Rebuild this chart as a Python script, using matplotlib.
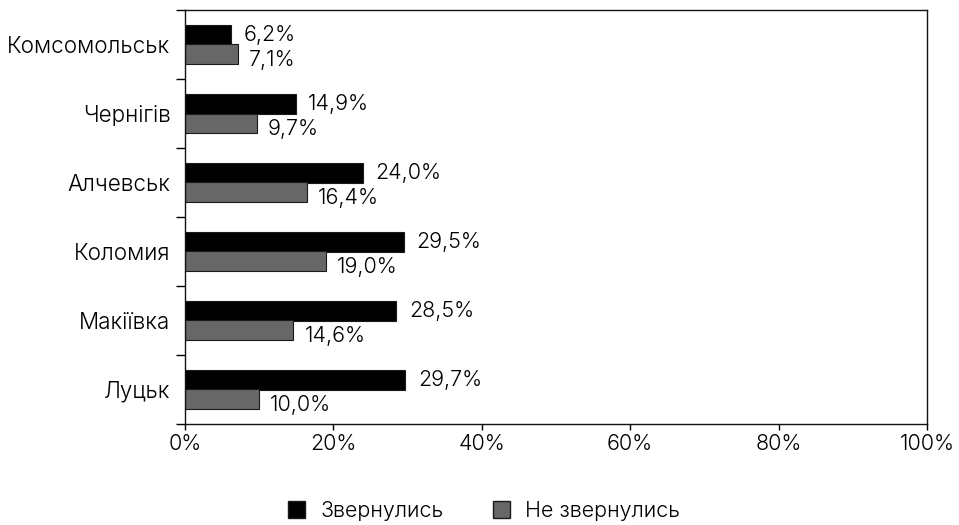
import matplotlib.pyplot as plt
import numpy as np
from matplotlib.patches import Patch
from matplotlib.ticker import FixedLocator, PercentFormatter

cities = ["Комсомольськ", "Чернігів", "Алчевськ", "Коломия", "Макіївка", "Луцьк"]
applied = [6.2, 14.9, 24.0, 29.5, 28.5, 29.7]
not_applied = [7.1, 9.7, 16.4, 19.0, 14.6, 10.0]
series_names = ["Звернулись", "Не звернулись"]
x_ticks = [0, 20, 40, 60, 80, 100]

plt.rcParams["font.family"] = ["Inter", "DejaVu Sans"]
plt.rcParams["font.weight"] = 300
FS = 15.5

fig = plt.figure(figsize=(9.59, 5.25), dpi=100)
ax = fig.add_axes([185 / 959, 1 - 424 / 525, (927 - 185) / 959, (424 - 10) / 525])

n = len(cities)
y = np.arange(n)[::-1].astype(float)
h = 0.283
c_black = "#000000"
c_gray = "#676767"
c_edge = "#1a1a1a"

ax.barh(y + h / 2, applied, height=h, color=c_black, edgecolor=c_edge, linewidth=0.8)
ax.barh(y - h / 2, not_applied, height=h, color=c_gray, edgecolor=c_edge, linewidth=0.8)

fmt = lambda v: f"{v:.1f}%".replace(".", ",")
for yi, a, b in zip(y, applied, not_applied):
    ax.annotate(fmt(a), (a, yi + h / 2), xytext=(9, 0), textcoords="offset points",
                va="center", ha="left", fontsize=FS, weight=300)
    ax.annotate(fmt(b), (b, yi - h / 2), xytext=(8, -4.3), textcoords="offset points",
                va="center", ha="left", fontsize=FS, weight=300)

ax.set_xlim(0, 100)
ax.set_ylim(-0.5, n - 0.5)
ax.set_xticks(x_ticks)
ax.xaxis.set_major_formatter(PercentFormatter(decimals=0))
ax.set_yticks(y)
ax.set_yticklabels(cities)
ax.yaxis.set_minor_locator(FixedLocator(np.arange(-0.5, n, 1.0)))
ax.tick_params(axis="y", which="major", length=0, labelsize=16.2, pad=10.5)
ax.tick_params(axis="y", which="minor", length=6.5, width=1)
ax.tick_params(axis="x", which="major", length=4.5, width=1, labelsize=FS, pad=2.5)

for s in ax.spines.values():
    s.set_linewidth(1.0)
    s.set_color("#111111")

handles = [Patch(facecolor=c_black, edgecolor=c_edge, label=series_names[0]),
           Patch(facecolor=c_gray, edgecolor=c_edge, label=series_names[1])]
fig.legend(handles=handles, loc="center", bbox_to_anchor=(484 / 959, 1 - 511 / 525),
           ncol=2, frameon=False, fontsize=FS, handlelength=0.8, handleheight=0.8,
           handletextpad=0.7, columnspacing=2.3, borderpad=0)

fig.savefig("out.png", dpi=100)
